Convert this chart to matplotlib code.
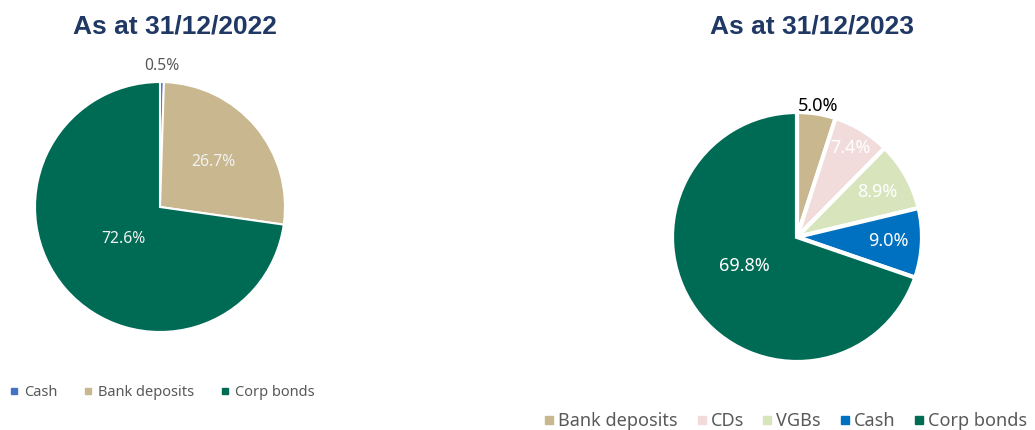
import matplotlib.pyplot as plt
from matplotlib.lines import Line2D
import numpy as np

plt.rcParams['font.family'] = ['Noto Sans', 'DejaVu Sans']

# data
labels_2022 = ['Cash', 'Bank deposits', 'Corp bonds']
values_2022 = [0.5, 26.7, 72.6]
colors_2022 = ['#4472C4', '#C9B88F', '#006B54']

labels_2023 = ['Bank deposits', 'CDs', 'VGBs', 'Cash', 'Corp bonds']
values_2023 = [5.0, 7.4, 8.9, 9.0, 69.8]
colors_2023 = ['#C9B88F', '#F2DCDB', '#D8E4BC', '#0070C0', '#006B54']

title_color = '#1F3864'
W, H = 1035, 430


def px_axes(fig, x, y, w, h):
    # pixel box (top-left origin) -> figure axes
    return fig.add_axes([x / W, (H - y - h) / H, w / W, h / H])


def label_pos(values, i, r, shift=0.0):
    total = sum(values)
    start = 90 - 360 * sum(values[:i]) / total
    mid = np.deg2rad(start - 180 * values[i] / total + shift)
    return r * np.cos(mid), r * np.sin(mid)


fig = plt.figure(figsize=(W / 100, H / 100), dpi=100)

# left pie
ax1 = px_axes(fig, 35, 82, 250, 250)
ax1.pie(values_2022, colors=colors_2022, startangle=90, counterclock=False,
        radius=1, wedgeprops=dict(edgecolor='white', linewidth=1.5))
ax1.set_xlim(-1, 1)
ax1.set_ylim(-1, 1)
ax1.set_aspect('equal')
ax1.axis('off')
radii_2022 = [1.13, 0.56, 0.39]
for i, v in enumerate(values_2022):
    x, y = label_pos(values_2022, i, radii_2022[i])
    c = '#595959' if i == 0 else '#F2F2F2'
    ax1.text(x, y, f'{v:.1f}%', color=c, fontsize=11.3, ha='center', va='center')

fig.text(175 / W, 1 - 27 / H, 'As at 31/12/2022', color=title_color, fontsize=19,
         fontweight='bold', ha='center', va='center',
         family=['Liberation Sans', 'DejaVu Sans'])

handles1 = [Line2D([], [], marker='s', linestyle='none', markersize=5,
                   markerfacecolor=c, markeredgecolor=c) for c in colors_2022]
fig.legend(handles1, labels_2022, loc='center left', bbox_to_anchor=(-4 / W, 1 - 393 / H),
           ncol=3, frameon=False, fontsize=10.5, handlelength=0.6, handletextpad=0.4,
           columnspacing=1.8, labelcolor='#595959')

# right pie
ax2 = px_axes(fig, 672, 112, 250, 250)
ax2.pie(values_2023, colors=colors_2023, startangle=90, counterclock=False,
        radius=1, wedgeprops=dict(edgecolor='white', linewidth=3))
ax2.set_xlim(-1, 1)
ax2.set_ylim(-1, 1)
ax2.set_aspect('equal')
ax2.axis('off')
radii_2023 = [1.06, 0.83, 0.74, 0.73, 0.48]
shifts_2023 = [0, 0, 0, 0, -7]
for i, v in enumerate(values_2023):
    x, y = label_pos(values_2023, i, radii_2023[i], shifts_2023[i])
    c = 'black' if i == 0 else 'white'
    ax2.text(x, y, f'{v:.1f}%', color=c, fontsize=13, ha='center', va='center')

fig.text(812 / W, 1 - 27 / H, 'As at 31/12/2023', color=title_color, fontsize=19,
         fontweight='bold', ha='center', va='center',
         family=['Liberation Sans', 'DejaVu Sans'])

handles2 = [Line2D([], [], marker='s', linestyle='none', markersize=6,
                   markerfacecolor=c, markeredgecolor=c) for c in colors_2023]
fig.legend(handles2, labels_2023, loc='center right', bbox_to_anchor=(1.0, 1 - 421 / H),
           ncol=5, frameon=False, fontsize=13, handlelength=0.5, handletextpad=0.25,
           columnspacing=1.05, labelcolor='#595959', borderaxespad=0.05)

fig.savefig('out.png', dpi=100)
